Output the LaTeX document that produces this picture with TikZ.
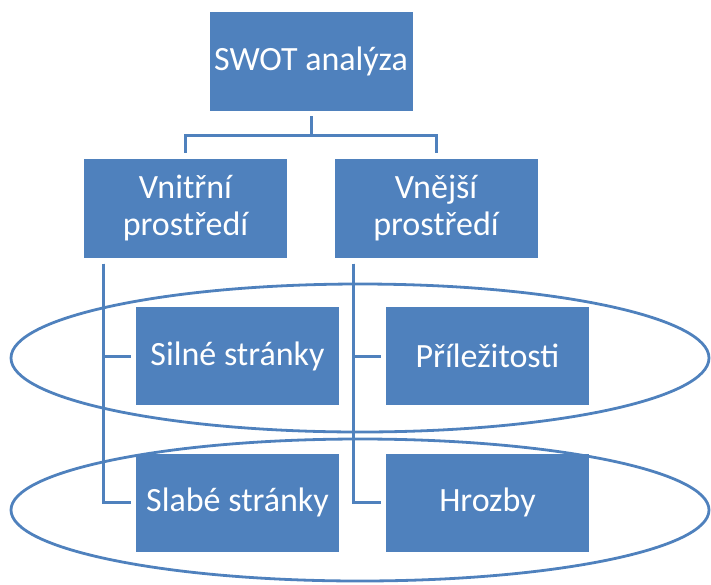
\documentclass[tikz,border=0pt]{standalone}
\usepackage{fontspec}
\setmainfont{Carlito}
\definecolor{boxblue}{HTML}{4F81BD}
\tikzset{
  box/.style={fill=boxblue, draw=none, minimum width=203pt, minimum height=99pt,
    inner sep=0pt, text=white, align=center,
    font=\fontsize{34pt}{37pt}\selectfont},
  conn/.style={draw=boxblue, line width=3pt},
  ring/.style={draw=boxblue, line width=2.8pt}
}
\begin{document}
\begin{tikzpicture}[x=1pt,y=-1pt]
\useasboundingbox (0,0) rectangle (711,584);

% grouping ellipses
\draw[ring] (360,358) ellipse [x radius=349pt, y radius=74pt];
\draw[ring] (360,510) ellipse [x radius=349pt, y radius=71pt];

% boxes
\node[box] (swot) at (311,61.5)  {SWOT analýza};
\node[box] (vn)   at (185.5,208) {Vnitřní\\prostředí};
\node[box] (ve)   at (436,208)   {Vnější\\prostředí};
\node[box, minimum height=98pt] (sil) at (237.5,356)   {Silné stránky};
\node[box, minimum height=98pt] (pri) at (487.5,356)   {Příležitosti};
\node[box, minimum height=98pt] (sla) at (237.5,502.5) {Slabé stránky};
\node[box, minimum height=98pt] (hro) at (487.5,502.5) {Hrozby};

% top level tree
\coordinate (top) at ([yshift=-5pt]swot.south);
\draw[conn] (top) -- ++(0,19) -| ([yshift=5pt]vn.north);
\draw[conn] (top) -- ++(0,19) -| ([yshift=5pt]ve.north);

% internal branch
\coordinate (vl) at ([xshift=-82.5pt,yshift=-6pt]vn.south);
\draw[conn] (vl) |- ([xshift=-5pt]sil.west);
\draw[conn] (vl) |- ([xshift=-5pt]sla.west);

% external branch
\coordinate (vr) at ([xshift=-83pt,yshift=-6pt]ve.south);
\draw[conn] (vr) |- ([xshift=-5pt]pri.west);
\draw[conn] (vr) |- ([xshift=-5pt]hro.west);
\end{tikzpicture}
\end{document}
